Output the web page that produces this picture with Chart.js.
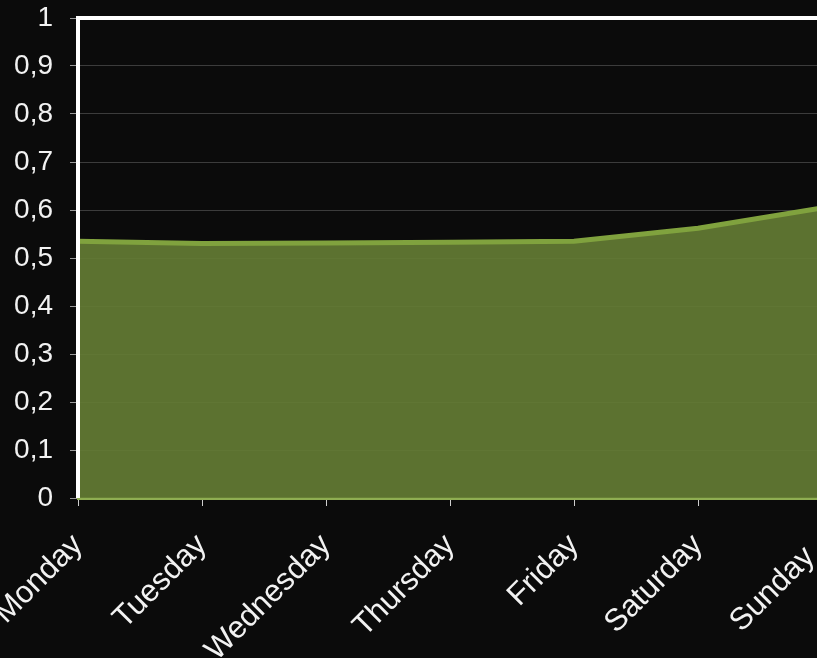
<!DOCTYPE html>
<html>
<head>
<meta charset="utf-8">
<script src="https://cdn.jsdelivr.net/npm/chart.js@4/dist/chart.umd.min.js"></script>
<style>
  html, body { margin:0; padding:0; background:#0b0b0b; overflow:hidden; }
  #wrap { position:relative; width:822px; height:658px; }
</style>
</head>
<body>
<div id="wrap"><canvas id="c" width="822" height="658"></canvas></div>
<script>
const days = ['Monday','Tuesday','Wednesday','Thursday','Friday','Saturday','Sunday'];
const values = [0.535, 0.530, 0.531, 0.533, 0.535, 0.562, 0.604];
const yMin = 0, yMax = 1, yStep = 0.1;

// white frame on top + left of plot area
const frame = {
  id:'frame',
  afterDatasetsDraw(chart){
    const a = chart.chartArea, ctx = chart.ctx;
    ctx.save();
    ctx.strokeStyle = '#ffffff';
    ctx.lineWidth = 4;
    ctx.beginPath();
    ctx.moveTo(a.left, a.bottom);
    ctx.lineTo(a.left, a.top);
    ctx.lineTo(a.right + 40, a.top);
    ctx.stroke();
    ctx.restore();
  }
};

new Chart(document.getElementById('c'), {
  type:'line',
  data:{
    labels: days,
    datasets:[{
      data: values,
      fill:'origin',
      backgroundColor:'rgba(100,124,52,0.92)',
      borderColor:'#80a23e',
      borderWidth:5,
      pointRadius:0,
      tension:0
    }]
  },
  options:{
    responsive:false,
    animation:false,
    layout:{ padding:{ top:18, left:0, right:0, bottom:0 } },
    plugins:{ legend:{display:false}, tooltip:{enabled:false} },
    scales:{
      x:{
        z:1,
        offset:false,
        grid:{ drawOnChartArea:false, tickLength:8, tickColor:'#cfcfcf', tickWidth:1 },
        border:{ color:'#8fae52', width:3 },
        ticks:{
          color:'#f2f2f2', font:{ family:'Liberation Sans', size:31 },
          minRotation:45, maxRotation:45, padding:21,
          // last label gets pulled inside the edge like the original
          callback:(v, i) => i === days.length - 1 ? days[i] + '  ' : days[i]
        },
        afterFit(s){ s.height = 160; s.paddingLeft = 0; s.paddingRight = 0; }
      },
      y:{
        min:yMin, max:yMax,
        grid:{ color:'#3c3c3c', lineWidth:1, tickLength:8, tickColor:'#9a9a9a', tickWidth:1 },
        border:{ display:false },
        ticks:{
          stepSize:yStep, color:'#f2f2f2', padding:17,
          font:{ family:'Liberation Sans', size:28 },
          callback:v => String(Math.round(v*10)/10).replace('.',',')
        },
        afterFit(s){ s.width = 78; s.paddingTop = 0; s.paddingBottom = 0; }
      }
    }
  },
  plugins:[frame]
});
</script>
</body>
</html>
